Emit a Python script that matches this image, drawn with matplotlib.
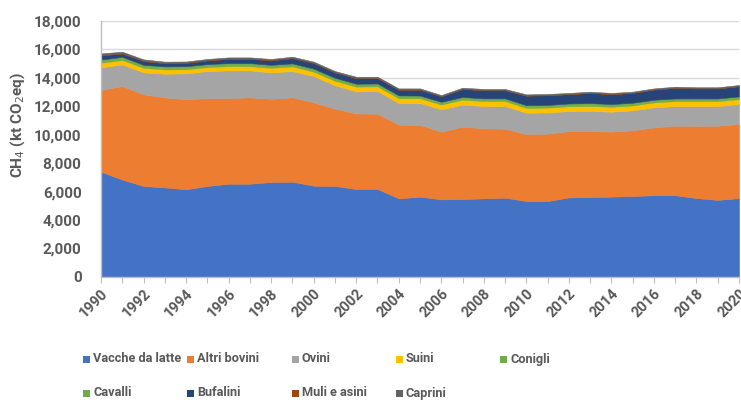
import matplotlib
matplotlib.use("Agg")
import matplotlib.pyplot as plt
from matplotlib.patches import Rectangle

# Emissioni di CH4 da fermentazione enterica (kt CO2eq), 1990-2020
ANNI = list(range(1990, 2021))

vacche_da_latte = [7400, 6850, 6400, 6300, 6170, 6400, 6560, 6560, 6680, 6700,
                   6420, 6400, 6190, 6190, 5530, 5650, 5460, 5480, 5530, 5580,
                   5340, 5340, 5600, 5620, 5650, 5700, 5750, 5750, 5550, 5420,
                   5550]
altri_bovini = [5750, 6580, 6440, 6330, 6320, 6180, 6020, 6070, 5860, 5930,
                5860, 5430, 5310, 5290, 5180, 5040, 4760, 5090, 4920, 4850,
                4710, 4740, 4660, 4640, 4570, 4610, 4770, 4890, 5070, 5220,
                5210]
ovini = [1590, 1520, 1550, 1660, 1830, 1900, 1950, 1900, 1850, 1850,
         1850, 1650, 1550, 1600, 1520, 1540, 1570, 1550, 1570, 1590,
         1500, 1490, 1410, 1430, 1400, 1410, 1410, 1380, 1400, 1380,
         1400]
suini = [330, 310, 320, 310, 290, 280, 300, 300, 320, 330,
         310, 320, 340, 330, 340, 340, 340, 350, 350, 350,
         340, 340, 340, 350, 350, 350, 350, 350, 350, 350,
         350]
conigli = [60, 60, 60, 60, 60, 60, 60, 60, 60, 60,
           60, 60, 60, 60, 60, 60, 60, 60, 60, 60,
           60, 60, 60, 60, 60, 55, 55, 55, 55, 55,
           55]
cavalli = [160, 160, 150, 150, 150, 150, 150, 150, 150, 150,
           150, 150, 140, 140, 140, 130, 130, 130, 130, 130,
           130, 130, 130, 130, 130, 130, 130, 130, 130, 130,
           130]
bufalini = [290, 230, 260, 220, 230, 260, 300, 300, 310, 370,
            390, 370, 390, 370, 400, 410, 380, 560, 570, 570,
            670, 680, 650, 710, 690, 690, 710, 740, 700, 700,
            720]
muli_e_asini = [30, 30, 30, 30, 25, 25, 25, 25, 25, 25,
                25, 25, 25, 25, 20, 20, 20, 20, 20, 20,
                20, 20, 20, 20, 20, 20, 20, 20, 20, 20,
                20]
caprini = [110, 100, 90, 80, 75, 75, 75, 75, 75, 75,
           75, 75, 75, 75, 70, 70, 70, 70, 70, 70,
           70, 70, 70, 70, 70, 65, 65, 65, 65, 65,
           65]

CATEGORIE = ["Vacche da latte", "Altri bovini", "Ovini", "Suini", "Conigli",
             "Cavalli", "Bufalini", "Muli e asini", "Caprini"]
SERIE = [vacche_da_latte, altri_bovini, ovini, suini, conigli,
         cavalli, bufalini, muli_e_asini, caprini]
COLORI = ["#4472C4", "#ED7D31", "#A5A5A5", "#FFC000", "#70AD47",
          "#70AD47", "#264478", "#9E480E", "#636363"]

INK = "#595959"
plt.rcParams["font.family"] = ["Roboto", "DejaVu Sans"]

W, H = 741, 400
fig = plt.figure(figsize=(W / 100, H / 100), dpi=100)
ax = fig.add_axes([101 / W, 1 - 277 / H, 638 / W, 256 / H])

polys = ax.stackplot(ANNI, *SERIE, colors=COLORI, linewidth=0)
for p, c in zip(polys, COLORI):
    p.set_edgecolor(c)
    p.set_linewidth(0.4)

ax.set_xlim(1990, 2020)
ax.set_ylim(0, 18000)
ax.set_yticks(range(0, 18001, 2000))
ax.set_yticklabels(["{:,}".format(v) for v in range(0, 18001, 2000)],
                   fontsize=11, fontweight="bold", color=INK)
ax.set_xticks(ANNI)
ax.set_xticklabels([str(a) if a % 2 == 0 else "" for a in ANNI],
                   rotation=45, ha="right", rotation_mode="anchor",
                   fontsize=10.5, fontweight="bold", color=INK)
ax.tick_params(axis="y", length=0, pad=14)
ax.tick_params(axis="x", length=4, width=0.8, color="#BFBFBF", pad=3,
               direction="out")

ax.grid(axis="y", color="#D9D9D9", linewidth=1)
ax.set_axisbelow(True)
for s in ("top", "right"):
    ax.spines[s].set_visible(False)
for s in ("left", "bottom"):
    ax.spines[s].set_color("#BFBFBF")
    ax.spines[s].set_linewidth(1)

fig.text(18 / W, 1 - 125 / H, r"CH$_4$ (kt CO$_2$eq)", rotation=90,
         ha="center", va="center", fontsize=11, fontweight="bold", color=INK)

# legenda a colonne fisse, come in Excel
for i, (nome, col) in enumerate(zip(CATEGORIE, COLORI)):
    r, c = divmod(i, 5)
    x = 83 + c * 104.3
    y = 359 + r * 34
    fig.patches.append(Rectangle((x / W, 1 - (y + 3.5) / H), 7 / W, 7 / H,
                                 transform=fig.transFigure, facecolor=col,
                                 edgecolor="none"))
    fig.text((x + 10) / W, 1 - y / H, nome, ha="left", va="center",
             fontsize=9.2, fontweight="bold", color=INK)

fig.savefig("out.png", dpi=100)
